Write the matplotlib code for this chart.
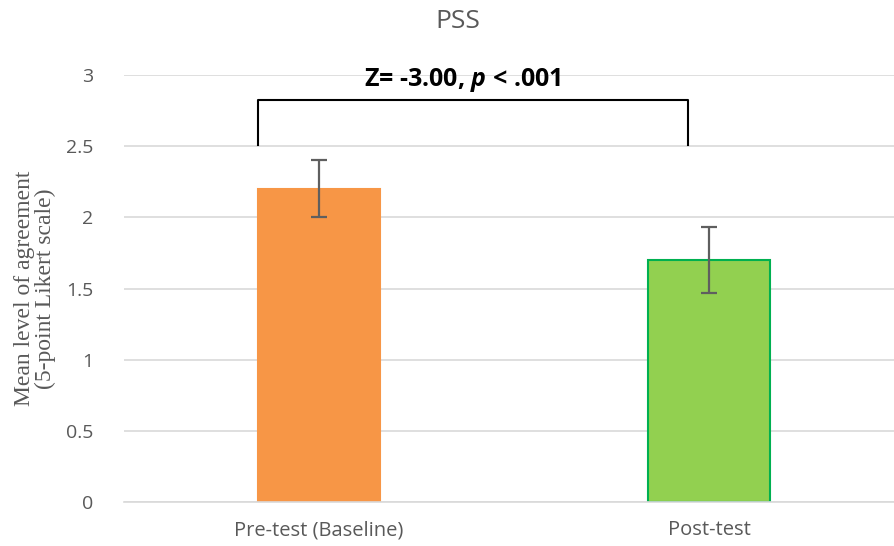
import matplotlib
matplotlib.use("Agg")
import matplotlib.pyplot as plt

plt.rcParams["mathtext.fontset"] = "custom"
plt.rcParams["mathtext.rm"] = "Open Sans"
plt.rcParams["mathtext.bf"] = "Open Sans:bold"
plt.rcParams["mathtext.bfit"] = "Open Sans:bold:italic"

categories = ["Pre-test (Baseline)", "Post-test"]
means = [2.2, 1.7]
errors = [0.2, 0.23]
bar_colors = ["#F79646", "#92D050"]
edge_colors = ["#F79646", "#00B050"]
yticks = [0, 0.5, 1, 1.5, 2, 2.5, 3]
ytick_labels = ["0", "0.5", "1", "1.5", "2", "2.5", "3"]
stat_text = r"Z= -3.00, $\mathbfit{p}$ < .001"

W, H = 894, 546
fig = plt.figure(figsize=(W / 100, H / 100), dpi=100)
ax = fig.add_axes([124 / W, 44 / H, (W - 124) / W, (502 - 75) / H])

x = list(range(len(categories)))
ax.bar(x, means, width=0.313, color=bar_colors, edgecolor=edge_colors,
       linewidth=1.5, zorder=2)
ax.errorbar(x, means, yerr=errors, fmt="none", ecolor="#5f5f5f",
            elinewidth=1.6, capsize=6, capthick=1.6, zorder=3)

ax.set_xlim(-0.5, 1.474)
ax.set_ylim(0, 3)
ax.set_yticks(yticks)
ax.set_yticklabels(ytick_labels)
ax.set_xticks(x)
ax.set_xticklabels(categories)
ax.yaxis.grid(True, color="#d9d9d9", linewidth=1.2, zorder=0)
ax.set_axisbelow(True)
for s in ["top", "right", "left"]:
    ax.spines[s].set_visible(False)
ax.spines["bottom"].set_color("#d9d9d9")
ax.spines["bottom"].set_linewidth(1.2)
ax.tick_params(axis="both", length=0, labelsize=14.5, colors="#595959",
               labelfontfamily="Open Sans")
ax.tick_params(axis="y", labelsize=14, pad=22)
ax.tick_params(axis="x", pad=13)

ax.set_ylabel("Mean level of agreement\n(5-point Likert scale)",
              family="Liberation Serif", fontsize=17, color="#595959",
              linespacing=1.0)
ax.yaxis.set_label_coords(-0.088, 0.5)

fig.text(458 / W, 1 - 22 / H, "PSS", ha="center", va="center",
         fontsize=19, color="#595959", family="Open Sans")

# significance bracket between the two groups
bx0, bx1, by, bleg = -0.156, 0.946, 2.825, 2.51
ax.plot([bx0, bx0, bx1, bx1], [bleg, by, by, bleg], color="black",
        linewidth=1.5, zorder=4, clip_on=False)
ax.text(0.369, 2.966, stat_text, ha="center", va="center",
        fontsize=18, fontweight="bold", family="Open Sans", color="black")

fig.savefig("out.png", dpi=100)
